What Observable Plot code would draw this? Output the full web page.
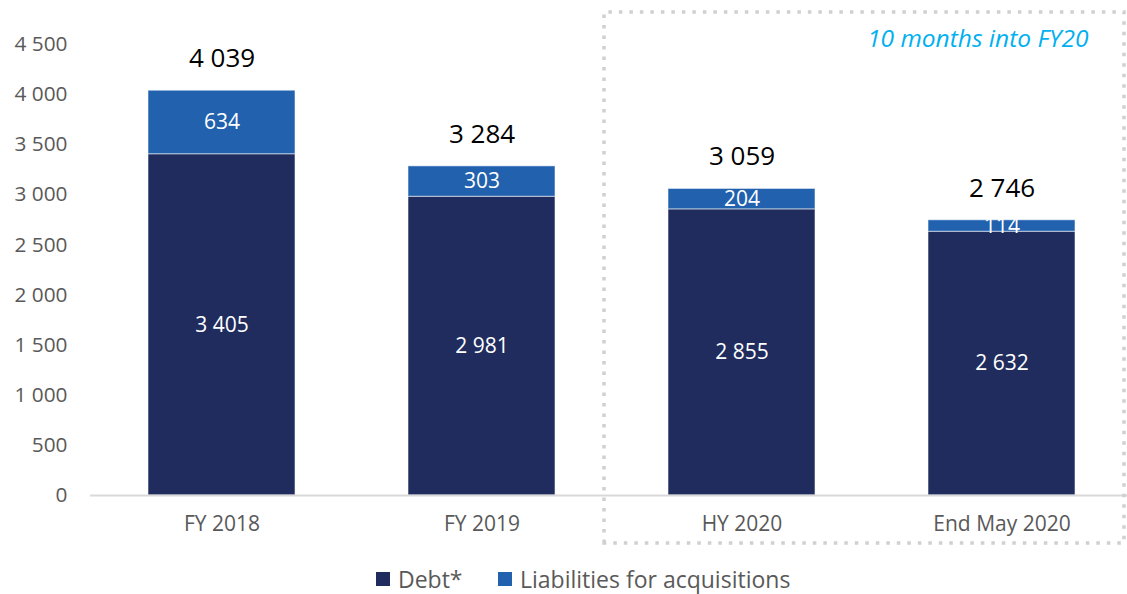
<!DOCTYPE html>
<html>
<head>
<meta charset="utf-8">
<script src="https://cdn.jsdelivr.net/npm/d3@7"></script>
<script src="https://cdn.jsdelivr.net/npm/@observablehq/plot@0.6"></script>
<style>
  html, body { margin: 0; padding: 0; background: white; }
  #wrap { position: relative; width: 1127px; height: 594px; font-family: 'Open Sans', sans-serif; }
  #legend { position: absolute; left: 0; top: 564px; width: 1127px; height: 30px; color: #595959; font-size: 23px; line-height: 30px; }
  .item { position: absolute; top: 0; height: 30px; display: flex; align-items: center; white-space: nowrap; }
  .sw { width: 14px; height: 14px; margin-right: 8px; }
</style>
</head>
<body>
<div id="wrap"><div id="chart"></div><div id="legend"></div></div>
<script>
const categories = ["FY 2018", "FY 2019", "HY 2020", "End May 2020"];
const debt = [3405, 2981, 2855, 2632];
const liabilities = [634, 303, 204, 114];
const totals = [4039, 3284, 3059, 2746];
const series = ["Debt*", "Liabilities for acquisitions"];
const colors = ["#202c5e", "#2161ae"];
const yTicks = [0, 500, 1000, 1500, 2000, 2500, 3000, 3500, 4000, 4500];
const annotation = "10 months into FY20";

const rows = categories.flatMap((c, i) => [
  {cat: c, series: series[0], value: debt[i]},
  {cat: c, series: series[1], value: liabilities[i]}
]);
const totalRows = categories.map((c, i) => ({cat: c, total: totals[i]}));
const fmt = d => d3.format(",")(d).replace(/,/g, " ");

const plot = Plot.plot({
  width: 1127,
  height: 560,
  marginLeft: 90,
  marginRight: -5.5,
  marginTop: 44,
  marginBottom: 65,
  style: {fontFamily: "'Open Sans', sans-serif", background: "white", color: "#595959", overflow: "visible"},
  x: {domain: categories, paddingInner: 0.435, paddingOuter: 0.22, label: null},
  y: {domain: [0, 4500], label: null},
  color: {domain: series, range: colors},
  marks: [
    Plot.axisY({ticks: yTicks, tickSize: 0, tickPadding: 23, tickFormat: fmt, fontSize: 20.8, label: null}),
    Plot.axisX({tickSize: 0, tickPadding: 21, fontSize: 21, label: null}),
    Plot.barY(rows, {x: "cat", y: "value", fill: "series", stroke: "white", strokeOpacity: 0.55, strokeWidth: 1}),
    Plot.ruleY([0], {stroke: "#d9d9d9", strokeWidth: 2}),
    Plot.text(rows, Plot.stackY({x: "cat", y: "value", text: d => fmt(d.value), fill: "white", fontSize: 21})),
    Plot.text(totalRows, {x: "cat", y: "total", text: d => fmt(d.total), dy: -32, fontSize: 26, fill: "black"}),
    Plot.text([annotation], {frameAnchor: "top-right", text: d => d, dx: -44.5, dy: -15, fontStyle: "italic", fill: "#00b0f0", fontSize: 24.5})
  ]
});
document.getElementById("chart").appendChild(plot);

// dotted highlight box around the FY20 categories
const xs = plot.scale("x");
const ys = plot.scale("y");
const gap = xs.step - xs.bandwidth;
const boxLeft = xs.apply("HY 2020") - gap * 0.566;
const boxRight = 1124;
const boxTop = ys.apply(4820);
const boxBottom = ys.apply(-480);
d3.select(plot).append("path")
  .attr("d", `M${boxLeft},${boxBottom} V${boxTop} H${boxRight} V${boxBottom} Z`)
  .attr("fill", "none")
  .attr("stroke", "#d0d0d0")
  .attr("stroke-width", 3.5)
  .attr("stroke-dasharray", "3.5 7");

// legend
const legend = document.getElementById("legend");
const lx = [376, 498];
series.forEach((s, i) => {
  const it = document.createElement("div");
  it.className = "item";
  it.style.left = lx[i] + "px";
  it.innerHTML = `<div class="sw" style="background:${colors[i]}"></div><span>${s}</span>`;
  legend.appendChild(it);
});
</script>
</body>
</html>
